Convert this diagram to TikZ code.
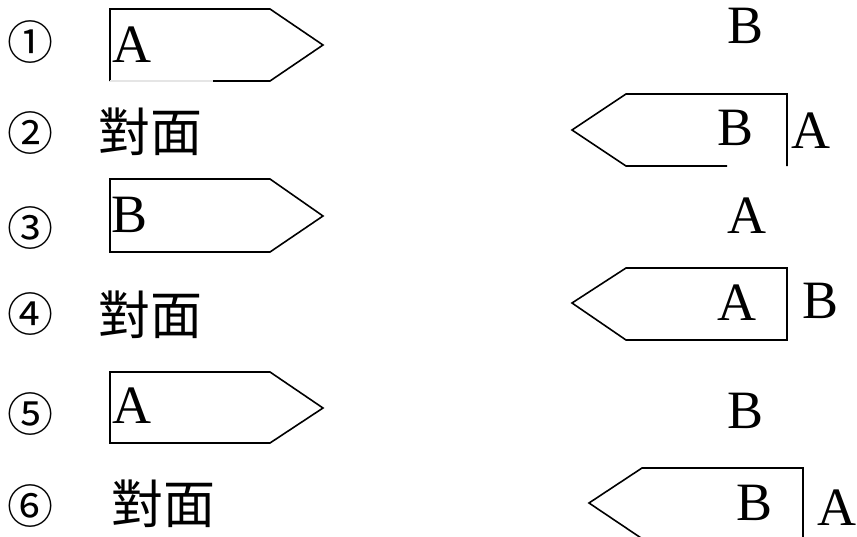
\documentclass[tikz,border=0pt]{standalone}
\usepackage{fontspec}
\setmainfont{Liberation Serif}
\newfontfamily\cjkfont{Noto Sans CJK TC}
\usetikzlibrary{positioning}

\begin{document}
\begin{tikzpicture}[x=1pt, y=-1pt,
  edge/.style={draw=black, line width=1.6pt, line join=miter},
  letter/.style={inner sep=0pt, anchor=base west, font=\fontsize{54}{54}\selectfont},
  numlabel/.style={inner sep=0pt, font=\cjkfont\fontsize{46}{46}\selectfont},
  sidelabel/.style={inner sep=0pt, anchor=base west, font=\cjkfont\fontsize{52}{52}\selectfont}
]
\useasboundingbox (0,0) rectangle (857,536);

% row numbers
\node[numlabel] (num1) at (30,42)  {①};
\node[numlabel] (num2) at (30,133) {②};
\node[numlabel] (num3) at (30,228) {③};
\node[numlabel] (num4) at (30,314) {④};
\node[numlabel] (num5) at (30,414) {⑤};
\node[numlabel] (num6) at (30,506) {⑥};

% opposite side
\node[sidelabel] (side2) at (98,151) {對面};
\node[sidelabel] (side4) at (98,334) {對面};
\node[sidelabel] (side6) at (111,523) {對面};

% tags pointing right
\draw[edge] (213,81) -- (270,81) -- (323,45) -- (270,9) -- (110,9) -- (110,81);
\draw[line width=1.6pt, gray!20] (110,81) -- (213,81);
\draw[edge] (110,179) -- (270,179) -- (323,216) -- (270,252) -- (110,252) -- cycle;
\draw[edge] (110,372) -- (270,372) -- (323,408) -- (270,443) -- (110,443) -- cycle;

% tags pointing left
\draw[edge] (727,166) -- (626,166) -- (572,130) -- (626,94) -- (787,94) -- (787,166);
\draw[edge] (626,268) -- (787,268) -- (787,340) -- (626,340) -- (572,303) -- cycle;
\draw[edge] (803,545) -- (803,468) -- (642,468) -- (589,503) -- (650,544);

% letters in the tags
\node[letter] (tag1) at (112,62)  {A};
\node[letter] (tag3) at (111,232) {B};
\node[letter] (tag5) at (112,423) {A};
\node[letter] (tag2) at (717,145) {B};
\node[letter] (tag4) at (717,320) {A};
\node[letter] (tag6) at (736,520) {B};

% letters beside the tags
\node[letter] (far1) at (727,43)  {B};
\node[letter] (far3) at (727,233) {A};
\node[letter] (far5) at (727,428) {B};
\node[letter] (out2) at (791,148) {A};
\node[letter] (out4) at (802,318) {B};
\node[letter] (out6) at (817,525) {A};
\end{tikzpicture}
\end{document}
